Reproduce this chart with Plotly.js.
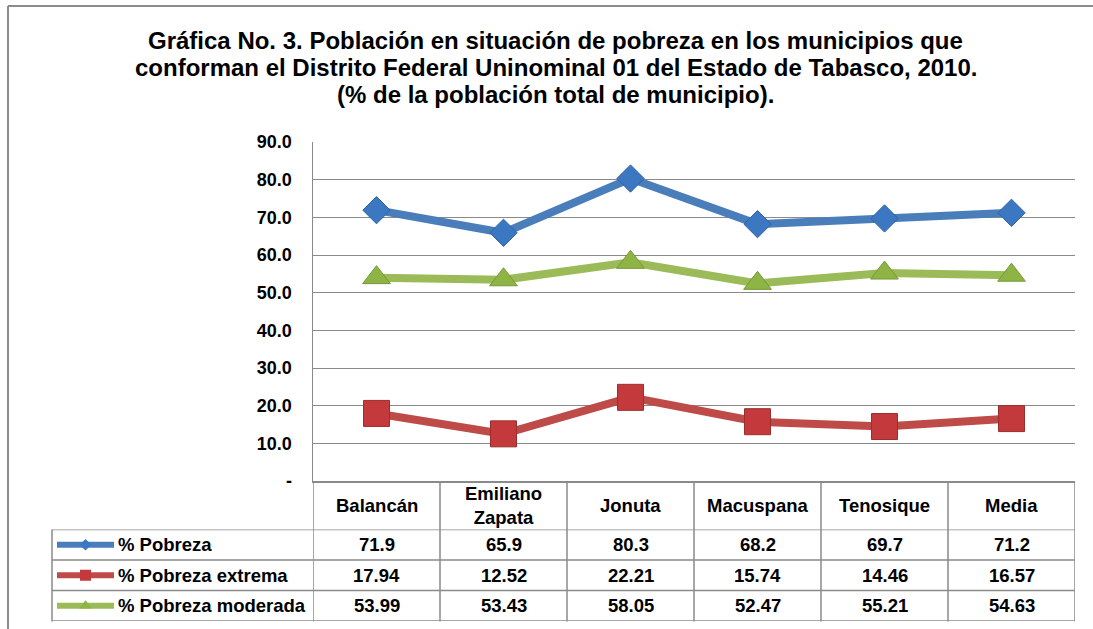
<!DOCTYPE html>
<html>
<head>
<meta charset="utf-8">
<script src="https://cdn.plot.ly/plotly-3.0.1.min.js"></script>
<style>html,body{margin:0;padding:0;background:#fff;}#chart{width:1093px;height:629px;}</style>
</head>
<body>
<div id="chart"></div>
<script>
// ---- data ----
const categories = ["Balancán", "Emiliano<br>Zapata", "Jonuta", "Macuspana", "Tenosique", "Media"];
const pobreza = [71.9, 65.9, 80.3, 68.2, 69.7, 71.2];
const pobrezaExtrema = [17.94, 12.52, 22.21, 15.74, 14.46, 16.57];
const pobrezaModerada = [53.99, 53.43, 58.05, 52.47, 55.21, 54.63];
const pobrezaLbl = ["71.9", "65.9", "80.3", "68.2", "69.7", "71.2"];
const pobrezaExtremaLbl = ["17.94", "12.52", "22.21", "15.74", "14.46", "16.57"];
const pobrezaModeradaLbl = ["53.99", "53.43", "58.05", "52.47", "55.21", "54.63"];
const seriesNames = ["% Pobreza", "% Pobreza extrema", "% Pobreza moderada"];
const yTickVals = [0, 10, 20, 30, 40, 50, 60, 70, 80, 90];
const yTickText = ["-", "10.0", "20.0", "30.0", "40.0", "50.0", "60.0", "70.0", "80.0", "90.0"];
const titleLines = [
  "Gráfica No. 3. Población en situación de pobreza en los municipios que",
  "conforman el Distrito Federal Uninominal 01 del Estado de Tabasco, 2010.",
  "(% de la población total de municipio)."
];

// ---- layout helpers ----
const W = 1093, H = 629;
const px = v => v / W;
const py = v => 1 - v / H;
const FONT = "Liberation Sans, Arial, sans-serif";
const GRID = "#8a8a8a";
const TABLE = "#8a8a8a";
const TXT = 18.5;

const colors = {
  blue: {line: "#4A7EBB", mark: "#3C78C2", edge: "#2E62A3"},
  red: {line: "#BE4B48", mark: "#C4393B", edge: "#9A2E2C"},
  green: {line: "#9BBB59", mark: "#8DB444", edge: "#759A35"}
};
const seriesList = [
  {name: seriesNames[0], y: pobreza, lbl: pobrezaLbl, c: colors.blue, sym: "diamond", size: 21},
  {name: seriesNames[1], y: pobrezaExtrema, lbl: pobrezaExtremaLbl, c: colors.red, sym: "square", size: 26},
  {name: seriesNames[2], y: pobrezaModerada, lbl: pobrezaModeradaLbl, c: colors.green, sym: "triangle-up", size: 24}
];
const keySize = {diamond: 9, square: 11, "triangle-up": 11};

const idx = categories.map((_, i) => i);
const traces = [];
seriesList.forEach(s => {
  traces.push({
    type: "scatter", mode: "lines+markers", x: idx, y: s.y, name: s.name,
    line: {color: s.c.line, width: 8},
    marker: {symbol: s.sym, size: s.size, color: s.c.mark, line: {color: s.c.edge, width: 1}},
    showlegend: false, hoverinfo: "x+y", xaxis: "x", yaxis: "y"
  });
});
// legend keys inside the data table
seriesList.forEach((s, r) => {
  traces.push({
    type: "scatter", mode: "lines", x: [0, 1], y: [r, r], xaxis: "x2", yaxis: "y2",
    line: {color: s.c.line, width: 6}, showlegend: false, hoverinfo: "skip"
  });
  traces.push({
    type: "scatter", mode: "markers", x: [0.5], y: [r], xaxis: "x2", yaxis: "y2",
    marker: {symbol: s.sym, size: keySize[s.sym], color: s.c.mark}, showlegend: false, hoverinfo: "skip"
  });
});

const shapes = [];
const annotations = [];
// outer frame
shapes.push({type: "line", xref: "paper", yref: "paper", x0: px(8), x1: 1, y0: py(6), y1: py(6), line: {color: "#8c8c8c", width: 2}});
shapes.push({type: "line", xref: "paper", yref: "paper", x0: px(8), x1: px(8), y0: py(6), y1: 0, line: {color: "#8c8c8c", width: 2}});
// table vertical lines at category boundaries
for (let k = 0; k <= categories.length; k++) {
  shapes.push({type: "line", xref: "x", yref: "paper", x0: k - 0.5, x1: k - 0.5, y0: py(621.5), y1: py(481), line: {color: TABLE, width: 1.5}});
}
// legend column left edge
shapes.push({type: "line", xref: "paper", yref: "paper", x0: px(52), x1: px(52), y0: py(621.5), y1: py(529.5), line: {color: TABLE, width: 1.5}});
// table horizontal row lines
for (let r = 0; r <= seriesList.length; r++) {
  shapes.push({type: "line", xref: "paper", yref: "y2", x0: px(52), x1: px(1075), y0: r - 0.5, y1: r - 0.5, line: {color: TABLE, width: 1.5}});
}
// title lines
const titleCenters = [40.5, 67.5, 94.5];
titleLines.forEach((t, i) => {
  annotations.push({xref: "paper", yref: "paper", x: px(556), y: py(titleCenters[i]), text: t, showarrow: false,
    xanchor: "center", yanchor: "middle", font: {family: FONT, size: 24, color: "#000", weight: "bold"}});
});
// header labels
categories.forEach((c, i) => {
  annotations.push({xref: "x", yref: "paper", x: i, y: py(505.5), text: c, showarrow: false,
    xanchor: "center", yanchor: "middle", font: {family: FONT, size: TXT, color: "#000", weight: "bold"}});
});
// table values and row labels
seriesList.forEach((s, r) => {
  annotations.push({xref: "paper", yref: "y2", x: px(116), y: r, text: s.name, showarrow: false,
    xanchor: "left", yanchor: "middle", font: {family: FONT, size: TXT, color: "#000", weight: "bold"}});
  s.lbl.forEach((v, i) => {
    annotations.push({xref: "x", yref: "y2", x: i, y: r, text: v, showarrow: false,
      xanchor: "center", yanchor: "middle", font: {family: FONT, size: TXT, color: "#000", weight: "bold"}});
  });
});

const layout = {
  width: W, height: H,
  margin: {l: 0, r: 0, t: 0, b: 0},
  paper_bgcolor: "#fff", plot_bgcolor: "#fff",
  font: {family: FONT, color: "#000"},
  xaxis: {domain: [px(313), px(1075)], range: [-0.5, categories.length - 0.5], showticklabels: false,
    showgrid: false, zeroline: false, showline: true, linecolor: TABLE, linewidth: 1.5, fixedrange: true},
  yaxis: {domain: [py(481), py(142)], range: [0, 90], tickvals: yTickVals, ticktext: yTickText,
    showgrid: true, gridcolor: GRID, gridwidth: 1, zeroline: false, showline: true, linecolor: TABLE, linewidth: 1.5,
    ticks: "outside", ticklen: 16, tickcolor: "rgba(0,0,0,0)",
    tickfont: {family: FONT, size: 18, color: "#000", weight: "bold"}, fixedrange: true},
  xaxis2: {domain: [px(57), px(114)], range: [0, 1], visible: false, fixedrange: true, anchor: "y2"},
  yaxis2: {domain: [py(621), py(529.5)], range: [2.5, -0.5], visible: false, fixedrange: true, anchor: "x2"},
  shapes: shapes,
  annotations: annotations,
  showlegend: false
};

Plotly.newPlot("chart", traces, layout, {displayModeBar: false, staticPlot: true});
</script>
</body>
</html>
